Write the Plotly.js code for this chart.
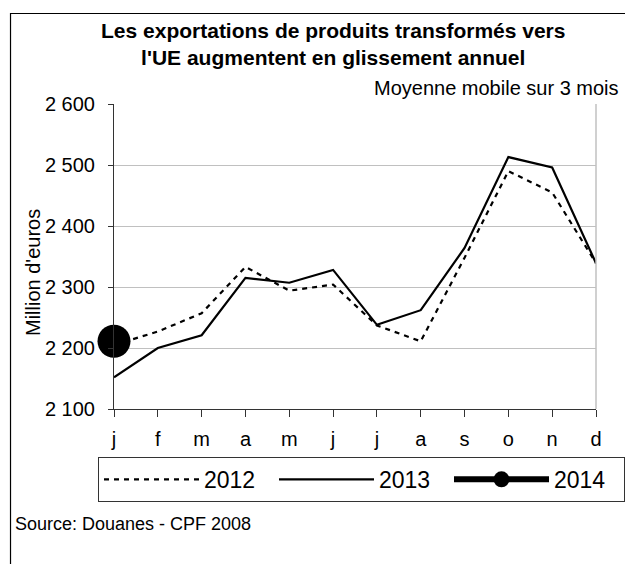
<!DOCTYPE html>
<html>
<head>
<meta charset="utf-8">
<script src="https://cdn.plot.ly/plotly-3.0.1.min.js"></script>
<style>
html,body{margin:0;padding:0;background:#fff;}
#chart{width:625px;height:564px;}
</style>
</head>
<body>
<div id="chart"></div>
<script>
const months = ["j","f","m","a","m","j","j","a","s","o","n","d"];
const values2012 = [2205, 2227, 2257, 2333, 2294, 2304, 2237, 2211, 2348, 2490, 2455, 2339];
const values2013 = [2152, 2200, 2221, 2315, 2307, 2328, 2238, 2262, 2364, 2513, 2496, 2339];
const values2014 = [2211];
const seriesNames = ["2012", "2013", "2014"];

const monthIdx = months.map((m, i) => i);

const traces = [
  {
    x: monthIdx, y: values2012, name: seriesNames[0], type: "scatter", mode: "lines",
    line: {color: "#000", width: 2.2, dash: "5px,5px"}
  },
  {
    x: monthIdx, y: values2013, name: seriesNames[1], type: "scatter", mode: "lines",
    line: {color: "#000", width: 2.2}
  },
  {
    x: monthIdx.slice(0, values2014.length), y: values2014, name: seriesNames[2], type: "scatter", mode: "lines+markers",
    line: {color: "#000", width: 6},
    marker: {color: "#000", size: 33},
    cliponaxis: false
  }
];

const font = "Liberation Sans, Arial, sans-serif";

const layout = {
  width: 625, height: 564,
  margin: {l: 114, r: 29, t: 104, b: 155},
  paper_bgcolor: "#fff", plot_bgcolor: "#fff",
  separators: ", ",
  font: {family: font, color: "#000", size: 20},
  showlegend: true,
  xaxis: {
    type: "linear", range: [0, 11],
    tickmode: "array", tickvals: monthIdx, ticktext: months,
    showgrid: false, zeroline: false,
    showline: true, linecolor: "#333", linewidth: 1,
    ticks: "outside", ticklen: 7, tickcolor: "#333",
    ticklabelstandoff: 5,
    tickfont: {family: font, size: 20, color: "#000"}
  },
  yaxis: {
    range: [2100, 2600], dtick: 100, tickformat: ",",
    showgrid: true, gridcolor: "#c0c0c0", gridwidth: 1, zeroline: false,
    showline: true, linecolor: "#333", linewidth: 1,
    ticks: "outside", ticklen: 5, tickcolor: "#333",
    ticklabelstandoff: 9,
    tickfont: {family: font, size: 20, color: "#000"}
  },
  legend: {
    orientation: "h",
    x: -0.0164, xanchor: "left",
    y: -0.157, yanchor: "top",
    bordercolor: "#333", borderwidth: 1,
    font: {family: font, size: 23, color: "#000"},
    itemwidth: 95, entrywidth: 65, entrywidthmode: "pixels",
    itemclick: false, itemdoubleclick: false
  },
  shapes: [
    {type: "rect", xref: "paper", yref: "paper",
     x0: -0.2147, x1: 1.2, y0: -0.7, y1: 1.2967,
     line: {color: "#000", width: 1.2}, fillcolor: "rgba(0,0,0,0)", layer: "below"},
    {type: "line", xref: "paper", yref: "paper",
     x0: 1, x1: 1, y0: 0, y1: 1,
     line: {color: "#c0c0c0", width: 1.5}}
  ],
  annotations: [
    {text: "<b>Les exportations de produits transformés vers<br>l'UE augmentent en glissement annuel</b>",
     xref: "paper", yref: "paper", x: 0.454, y: 1.198, xanchor: "center", yanchor: "middle",
     showarrow: false, font: {family: font, size: 21, color: "#000"}},
    {text: "Moyenne mobile sur 3 mois", xref: "paper", yref: "paper",
     x: 1.052, y: 1.052, xanchor: "right", yanchor: "middle", showarrow: false,
     font: {family: font, size: 20, color: "#000"}},
    {text: "Million d'euros", xref: "paper", yref: "paper",
     x: -0.168, y: 0.446, xanchor: "center", yanchor: "middle", textangle: -90, showarrow: false,
     font: {family: font, size: 20, color: "#000"}},
    {text: "Source: Douanes - CPF 2008", xref: "paper", yref: "paper",
     x: -0.2095, y: -0.377, xanchor: "left", yanchor: "middle", showarrow: false,
     font: {family: font, size: 18, color: "#000"}}
  ]
};

Plotly.newPlot("chart", traces, layout, {displayModeBar: false, staticPlot: true});
</script>
</body>
</html>
